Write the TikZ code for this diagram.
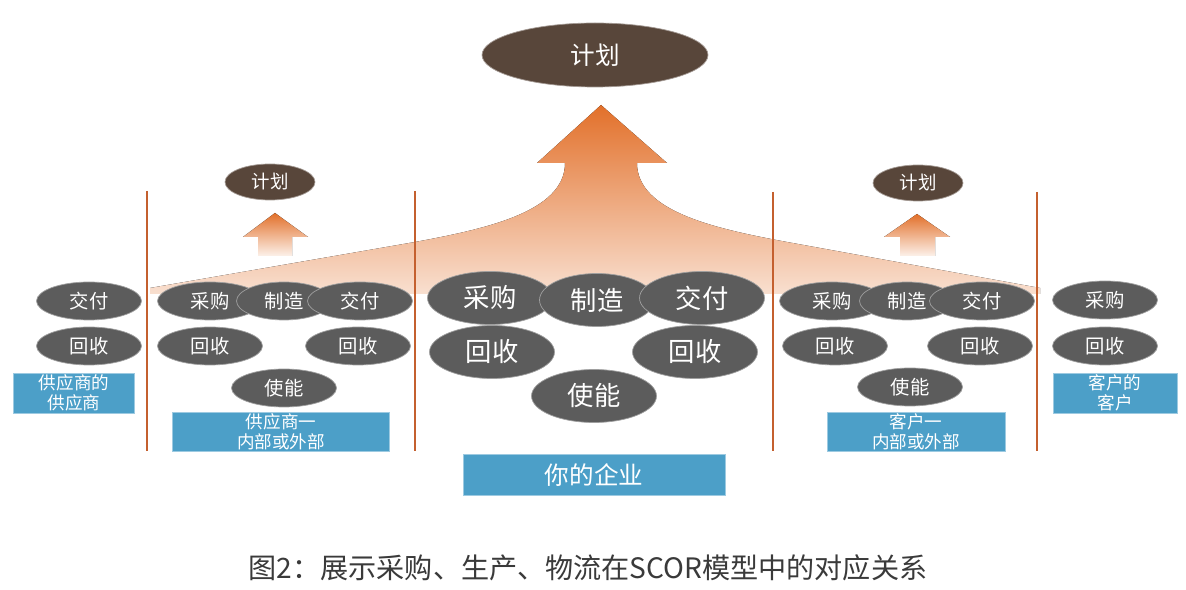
\documentclass[tikz,border=0pt]{standalone}
\usepackage{fontspec}
\setmainfont{Noto Sans CJK SC}
\usetikzlibrary{shapes.geometric}
\definecolor{planbrown}{HTML}{58463A}
\definecolor{stepgray}{HTML}{5C5C5C}
\definecolor{roleblue}{HTML}{4C9FC8}
\definecolor{flowrange}{HTML}{E2702A}
\definecolor{linebrown}{HTML}{C4602F}
\definecolor{captiongray}{HTML}{3A3A3A}

\begin{document}
\begin{tikzpicture}[x=0.02cm, y=-0.02cm,
    plan/.style={ellipse, draw=planbrown!55, fill=planbrown, text=white, inner sep=0pt},
    proc/.style={ellipse, draw=gray!75, fill=stepgray, text=white, inner sep=0pt,
      minimum width=2.1cm, minimum height=0.76cm, font=\fontsize{11}{11}\selectfont},
    bigproc/.style={proc, minimum width=2.5cm, minimum height=1.06cm, font=\fontsize{15}{15}\selectfont},
    role/.style={draw=roleblue!55, fill=roleblue, text=white, inner sep=0pt, align=center,
      font=\fontsize{10}{11.5}\selectfont},
    divider/.style={linebrown, line width=1pt},
    flow/.style={top color=flowrange, bottom color=flowrange!10}
  ]
  \useasboundingbox (0,0) rectangle (1186,590);
  \fill[white] (0,0) rectangle (1186,590);

  % big arrow towards the overall plan
  \fill[top color=flowrange, bottom color=flowrange!22]
    (150,294) -- (150,288) -- (415,242) .. controls (485,229) and (565,212) .. (565,163)
    -- (537,163) -- (601,105) -- (667,163) -- (637,163)
    .. controls (637,212) and (717,229) .. (787,242) -- (1040,288) -- (1040,294) -- cycle;

  % small arrows
  \fill[flow] (258,256) -- (258,237) -- (243,237) -- (275,213) -- (308,237) -- (292,237) -- (292,256) -- cycle;
  \fill[flow] (900,256) -- (900,237) -- (884,237) -- (917,214) -- (950,237) -- (935,237) -- (935,256) -- cycle;

  % plans
  \node[plan, minimum width=4.52cm, minimum height=1.28cm, font=\fontsize{14}{14}\selectfont] (planTop) at (595,55) {计划};
  \node[plan, minimum width=1.8cm, minimum height=0.72cm, font=\fontsize{10.5}{10.5}\selectfont] (planSup) at (270,182) {计划};
  \node[plan, minimum width=1.8cm, minimum height=0.72cm, font=\fontsize{10.5}{10.5}\selectfont] (planCus) at (918,183) {计划};

  % dividers
  \draw[divider] (147,191) -- (147,451);
  \draw[divider] (415,191) -- (415,451);
  \draw[divider] (773,192) -- (773,451);
  \draw[divider] (1037,192) -- (1037,451);

  % supplier's supplier
  \node[proc] (ssDeliver) at (89,301) {交付};
  \node[proc] (ssReturn) at (89,346) {回收};
  \node[role, minimum width=2.42cm, minimum height=0.8cm] (ssRole) at (74,393) {供应商的\\供应商};

  % supplier
  \node[proc] (supSource) at (210,301) {采购};
  \node[proc, minimum width=1.9cm] (supMake) at (284,301) {制造};
  \node[proc] (supDeliver) at (360,301) {交付};
  \node[proc] (supReturnA) at (210,346) {回收};
  \node[proc] (supReturnB) at (358,346) {回收};
  \node[proc] (supEnable) at (284,388) {使能};
  \node[role, minimum width=4.34cm, minimum height=0.78cm] (supRole) at (281,432) {供应商一\\内部或外部};

  % your company
  \node[bigproc] (ownSource) at (490,298) {采购};
  \node[bigproc, minimum width=2.3cm] (ownMake) at (597,300) {制造};
  \node[bigproc] (ownDeliver) at (702,298) {交付};
  \node[bigproc] (ownReturnA) at (492,352) {回收};
  \node[bigproc] (ownReturnB) at (695,352) {回收};
  \node[bigproc] (ownEnable) at (594,396) {使能};
  \node[role, minimum width=5.24cm, minimum height=0.82cm, font=\fontsize{14}{14}\selectfont] (ownRole) at (594,475) {你的企业};

  % customer
  \node[proc] (cusSource) at (832,301) {采购};
  \node[proc, minimum width=1.9cm] (cusMake) at (907,301) {制造};
  \node[proc] (cusDeliver) at (982,301) {交付};
  \node[proc] (cusReturnA) at (835,346) {回收};
  \node[proc] (cusReturnB) at (980,346) {回收};
  \node[proc] (cusEnable) at (910,387) {使能};
  \node[role, minimum width=3.56cm, minimum height=0.78cm] (cusRole) at (916,432) {客户一\\内部或外部};

  % customer's customer
  \node[proc] (ccSource) at (1105,300) {采购};
  \node[proc] (ccReturn) at (1105,346) {回收};
  \node[role, minimum width=2.48cm, minimum height=0.8cm] (ccRole) at (1115,393) {客户的\\客户};

  \node[font=\fontsize{16}{16}\selectfont, text=captiongray] (caption) at (588,568)
    {图2：展示采购、生产、物流在SCOR模型中的对应关系};
\end{tikzpicture}
\end{document}
